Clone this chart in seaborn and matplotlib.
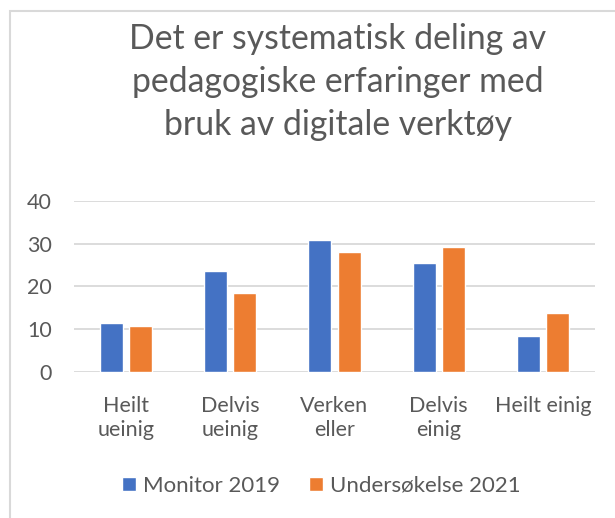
import matplotlib

matplotlib.use('Agg')
import matplotlib.pyplot as plt
import pandas as pd
import seaborn as sns

categories = ['Heilt\nueinig', 'Delvis\nueinig', 'Verken\neller', 'Delvis\neinig', 'Heilt einig']
monitor_2019 = [11.5, 23.7, 30.8, 25.5, 8.4]
undersokelse_2021 = [10.7, 18.4, 28.0, 29.1, 13.8]
series_names = ['Monitor 2019', 'Undersøkelse 2021']
title = 'Det er systematisk deling av\npedagogiske erfaringer med\nbruk av digitale verktøy'

df = pd.DataFrame({
    'kategori': categories * 2,
    'verdi': monitor_2019 + undersokelse_2021,
    'serie': [series_names[0]] * 5 + [series_names[1]] * 5,
})

sns.set_style('white')
plt.rcParams['font.family'] = ['Lato', 'DejaVu Sans']
grey = '#595959'

fig = plt.figure(figsize=(6.15, 5.18), dpi=100)
ax = fig.add_axes([74 / 615, 146 / 518, 521 / 615, 171.3 / 518])

sns.barplot(data=df, x='kategori', y='verdi', hue='serie',
            palette=['#4472C4', '#ED7D31'], width=0.557, gap=0.207,
            saturation=1, ax=ax)

ax.set_ylim(0, 40)
ax.set_yticks([0, 10, 20, 30, 40])
ax.yaxis.grid(True, color='#D9D9D9', linewidth=1.3)
ax.set_axisbelow(True)
for s in ax.spines.values():
    s.set_visible(False)
ax.set_xlabel('')
ax.set_ylabel('')
ax.tick_params(axis='both', length=0, labelsize=15.5, colors=grey)
ax.tick_params(axis='x', pad=17)
ax.tick_params(axis='y', pad=16)
for lab in ax.get_xticklabels():
    lab.set_linespacing(1.3)

handles, labels = ax.get_legend_handles_labels()
ax.get_legend().remove()
leg = fig.legend(handles, labels, loc='center', bbox_to_anchor=(0.522, 0.062), ncol=2,
                 frameon=False, fontsize=16, handlelength=0.63, handleheight=0.63,
                 columnspacing=1.3, handletextpad=0.32, borderpad=0)
for t in leg.get_texts():
    t.set_color(grey)

# tittel over tre linjer
fig.text(0.549, 0.956, title, ha='center', va='top', fontsize=24.3,
         color=grey, linespacing=1.42)

fig.add_artist(plt.Rectangle((10 / 615, -0.5), 1.5, 0.5 + 507.5 / 518, transform=fig.transFigure,
                             fill=False, edgecolor='#D9D9D9', linewidth=1.5))

plt.savefig('out.png', dpi=100)
plt.close()
